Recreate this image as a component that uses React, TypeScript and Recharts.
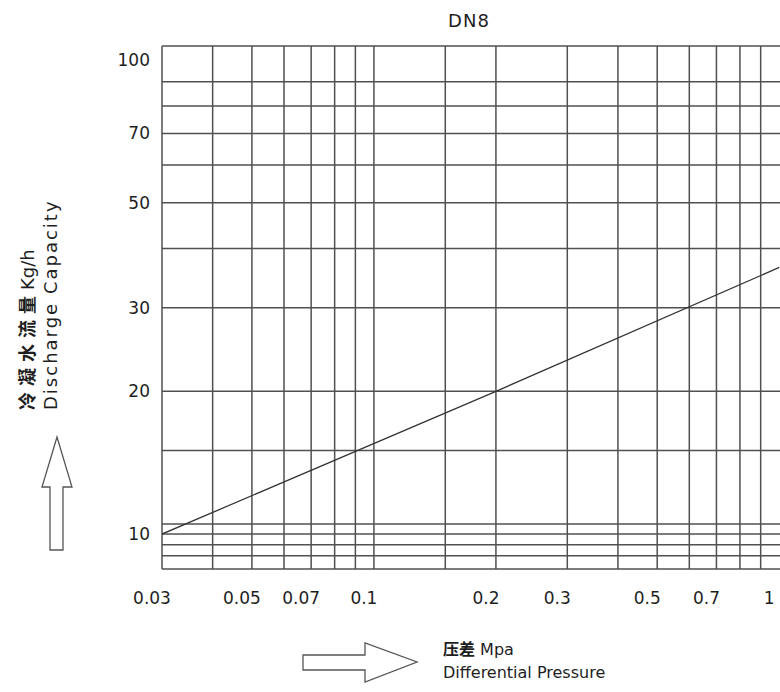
import React from 'react';
import { LineChart, Line, XAxis, YAxis, ReferenceLine } from 'recharts';

// values (log-log)
const pressure = [0.03, 0.2, 1];
const capacity = [10, 20, 36.5];

const xTicks = [0.03, 0.05, 0.07, 0.1, 0.2, 0.3, 0.5, 0.7, 1];
const yTicks = [10, 20, 30, 50, 70, 100];

const xGrid = [0.03, 0.04, 0.05, 0.06, 0.07, 0.08, 0.09, 0.1, 0.15, 0.2, 0.3, 0.4, 0.5, 0.6, 0.7, 0.8, 0.9];
const yGrid = [107, 90, 80, 70, 60, 50, 40, 30, 20, 15, 10.5, 10, 9.5, 9, 8.44];

const X_DOMAIN = [0.03, 1.1];
const Y_DOMAIN = [8.44, 107];

const data = pressure.map((p, i) => ({ p, q: capacity[i] }));

const FONT = "'DejaVu Sans', 'Noto Sans CJK SC', sans-serif";
const INK = '#1e1e1e';
const GRID = '#505050';

export default function App() {
    return (
        <div style={{ position: 'fixed', left: 0, top: 0, width: 780, height: 692, overflow: 'hidden', background: '#fff', fontFamily: FONT }}>
            <div style={{ position: 'absolute', left: 469, top: 10, transform: 'translateX(-50%)', fontSize: 18, letterSpacing: 1, color: INK }}>
                DN8
            </div>

            <LineChart width={800} height={692} data={data} margin={{ top: 46, right: 4, bottom: 63, left: 0 }}>
                <XAxis
                    type="number"
                    dataKey="p"
                    scale="log"
                    domain={X_DOMAIN}
                    allowDataOverflow
                    ticks={xTicks}
                    interval={0}
                    axisLine={false}
                    tickLine={false}
                    tickSize={0}
                    tickMargin={23}
                    height={60}
                    tick={{ fontSize: 17, fill: INK, dx: -10 }}
                />
                <YAxis
                    type="number"
                    scale="log"
                    domain={Y_DOMAIN}
                    allowDataOverflow
                    ticks={yTicks}
                    interval={0}
                    axisLine={false}
                    tickLine={false}
                    tickSize={0}
                    tickMargin={12}
                    width={162}
                    tick={{ fontSize: 17, fill: INK }}
                />
                {yGrid.map((v) => (
                    <ReferenceLine key={`h-${v}`} y={v} stroke={GRID} strokeWidth={1.5} ifOverflow="extendDomain" />
                ))}
                {xGrid.map((v) => (
                    <ReferenceLine key={`v-${v}`} x={v} stroke={GRID} strokeWidth={1.5} ifOverflow="extendDomain" />
                ))}
                <Line type="linear" dataKey="q" stroke="#333" strokeWidth={1.3} dot={false} isAnimationActive={false} />
            </LineChart>

            {/* axis captions and arrows */}
            <svg width={780} height={692} style={{ position: 'absolute', left: 0, top: 0, pointerEvents: 'none' }}>
                <text transform="translate(34,410) rotate(-90)" fontSize={18} fill={INK}>
                    <tspan letterSpacing={6} fontFamily="'Noto Sans CJK SC'" fontWeight={700}>冷凝水流量</tspan>
                    <tspan>Kg/h</tspan>
                </text>
                <text transform="translate(57,410) rotate(-90)" fontSize={18} letterSpacing={2} fill={INK}>
                    Discharge Capacity
                </text>
                <polygon
                    points="57,437 42,487 50,487 50,550 63,550 63,487 72,487"
                    fill="#fff"
                    stroke="#555"
                    strokeWidth={1.3}
                />
                <polygon
                    points="303,655 365,655 365,643 417,662 365,682 365,670 303,670"
                    fill="#fff"
                    stroke="#555"
                    strokeWidth={1.3}
                />
                <text x={443} y={655} fontSize={16} fill={INK}>
                    <tspan fontFamily="'Noto Sans CJK SC'" fontWeight={700}>压差</tspan> Mpa
                </text>
                <text x={443} y={678} fontSize={16} fill={INK}>Differential Pressure</text>
            </svg>
        </div>
    );
}
